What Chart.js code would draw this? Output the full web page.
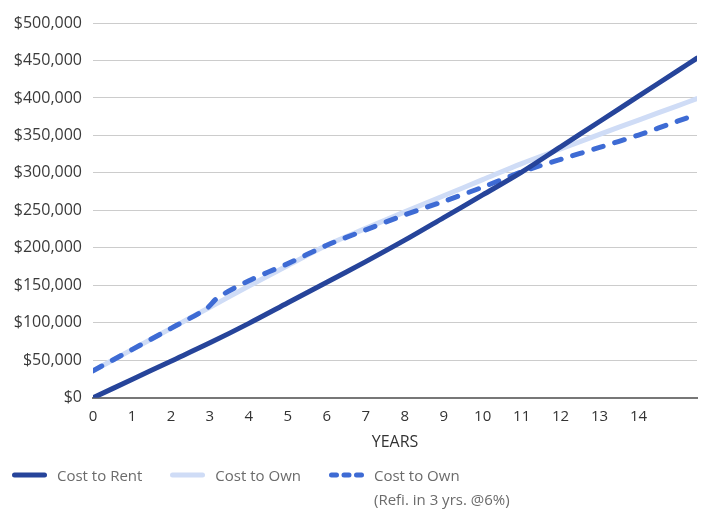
<!DOCTYPE html>
<html>
<head>
<meta charset="utf-8">
<script src="https://cdn.jsdelivr.net/npm/chart.js@4/dist/chart.umd.min.js"></script>
<style>
  body { margin: 0; background: #fff; }
  #wrap { position: relative; width: 707px; height: 510px; }
  #legenda { position: absolute; left: 12px; top: 463px; display: flex; font-family: "Open Sans", sans-serif; font-size: 15px; color: #6b6b6b; line-height: 24px; }
  .item { display: flex; align-items: flex-start; margin-right: 28px; }
  .item svg { margin-top: 9px; margin-right: 10px; }
</style>
</head>
<body>
<div id="wrap">
  <canvas id="grafico" width="707" height="510"></canvas>
  <div id="legenda"></div>
</div>
<script>
// anos no eixo x
const anos = [0, 1, 2, 3, 4, 5, 6, 7, 8, 9, 10, 11, 12, 13, 14, 15, 15.5]
const anos_refi = [0, 1, 2, 2.9, 3.2, 4, 5, 6, 7, 8, 9, 10, 11, 12, 13, 14, 15, 15.5]

const custo_aluguel = [0, 24500, 48900, 73300, 99300, 126700, 154100, 181700, 210300, 240400, 270600, 301100, 334800, 368600, 402400, 436200, 453100]
const custo_compra = [36000, 64300, 92600, 120800, 149200, 176500, 203500, 226000, 248000, 269500, 291000, 312500, 332000, 351500, 370500, 389500, 399000]
const custo_refi = [36000, 64300, 92600, 118500, 133500, 156200, 179000, 203500, 224000, 244000, 262000, 281000, 301500, 318000, 334000, 350500, 369000, 378000]

const rotulos_x = ['0', '1', '2', '3', '4', '5', '6', '7', '8', '9', '10', '11', '12', '13', '14']
const legendas = [['Cost to Rent'], ['Cost to Own'], ['Cost to Own', '(Refi. in 3 yrs. @6%)']]

const fonte = '"Open Sans", sans-serif'

const pontos = (xs, ys) => xs.map((x, i) => ({ x: x, y: ys[i] }))

const data = {
  datasets: [
    {
      label: legendas[0].join(' '), data: pontos(anos, custo_aluguel),
      borderColor: '#26449a', borderWidth: 5, order: 0
    },
    {
      label: legendas[1].join(' '), data: pontos(anos, custo_compra),
      borderColor: '#cfdcf6', borderWidth: 5, order: 2
    },
    {
      label: legendas[2].join(' '), data: pontos(anos_refi, custo_refi),
      borderColor: '#3e6bd4', borderWidth: 5, borderDash: [10, 12], order: 1,
      legendDash: [5, 7.5]
    }
  ]
}

const grafico = new Chart(document.getElementById('grafico'), {
  type: 'line',
  data: data,
  options: {
    responsive: false,
    animation: false,
    layout: { padding: { top: 23, right: 10, bottom: 58, left: 0 } },
    elements: {
      point: { radius: 0 },
      line: { tension: 0.3, borderCapStyle: 'round', borderJoinStyle: 'round' }
    },
    scales: {
      x: {
        type: 'linear',
        min: 0,
        max: 15.5,
        afterBuildTicks: scale => {
          scale.ticks = rotulos_x.map(r => ({ value: Number(r) }))
        },
        ticks: {
          padding: 10,
          color: '#333',
          font: { family: fonte, size: 15 },
          callback: (v) => rotulos_x[rotulos_x.indexOf(String(v))]
        },
        grid: { display: false, drawTicks: false },
        border: { display: true, color: '#777', width: 2 },
        title: {
          display: true, text: 'YEARS', color: '#333',
          font: { family: fonte, size: 16 }, padding: { top: -3, bottom: 0 }
        }
      },
      y: {
        min: 0,
        max: 500000,
        afterFit: scale => { scale.width = 93 },
        ticks: {
          stepSize: 50000,
          padding: 11,
          color: '#3a3a3a',
          font: { family: fonte, size: 16 },
          callback: v => '$' + v.toLocaleString('en-US')
        },
        grid: { color: '#cccccc', lineWidth: 1, drawTicks: false },
        border: { display: false }
      }
    },
    plugins: {
      legend: { display: false },
      tooltip: { enabled: false }
    }
  }
})

// legenda em html, montada a partir dos datasets
const montar_legenda = chart => {
  const div = document.getElementById('legenda')
  chart.data.datasets.forEach((ds, i) => {
    const traco = ds.legendDash ? `stroke-dasharray="${ds.legendDash.join(' ')}"` : ''
    div.insertAdjacentHTML('beforeend', `
      <div class="item">
        <svg width="35" height="6"><line x1="2.5" y1="3" x2="32.5" y2="3" stroke="${ds.borderColor}" stroke-width="5" stroke-linecap="round" ${traco}/></svg>
        <div>${legendas[i].join('<br>')}</div>
      </div>`)
  })
}

montar_legenda(grafico)
</script>
</body>
</html>
